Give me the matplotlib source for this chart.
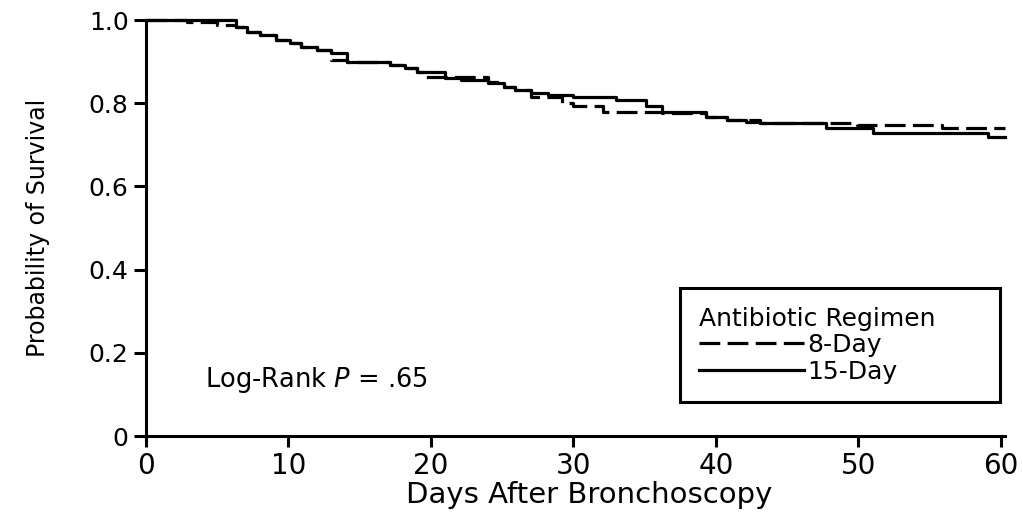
import numpy as np
import matplotlib.pyplot as plt

plt.rcParams['font.family'] = ['DejaVu Sans']

# Kaplan-Meier step points (day of event, survival after event)
days_8 = [0, 2.9, 5.0, 6.3, 7.1, 8.0, 9.1, 10.1, 10.9, 12.0, 13.0, 14.1, 17.1,
          18.2, 19.0, 19.6, 24.0, 25.1, 25.9, 27.0, 29.2, 30.0, 32.1, 36.2,
          39.3, 40.8, 43.1, 49.9, 55.9]
surv_8 = [1.0, 0.995, 0.988, 0.984, 0.970, 0.964, 0.952, 0.944, 0.936, 0.928,
          0.904, 0.898, 0.891, 0.884, 0.876, 0.862, 0.850, 0.839, 0.832, 0.816,
          0.800, 0.793, 0.780, 0.776, 0.768, 0.760, 0.752, 0.747, 0.740]

days_15 = [0, 6.3, 7.1, 8.0, 9.1, 10.1, 10.9, 12.0, 13.0, 14.1, 17.1, 18.2,
           19.0, 21.0, 22.1, 24.0, 25.1, 25.9, 27.0, 28.2, 30.0, 33.0, 35.1,
           36.2, 39.3, 40.8, 42.1, 43.1, 47.7, 51.0, 59.1]
surv_15 = [1.0, 0.984, 0.970, 0.964, 0.952, 0.944, 0.936, 0.928, 0.921, 0.898,
           0.891, 0.884, 0.876, 0.860, 0.855, 0.849, 0.839, 0.832, 0.825, 0.820,
           0.816, 0.808, 0.793, 0.778, 0.768, 0.760, 0.756, 0.752, 0.740, 0.728,
           0.718]

follow_up_end = 60.3
x_ticks = [0, 10, 20, 30, 40, 50, 60]
y_ticks = [0, 0.2, 0.4, 0.6, 0.8, 1.0]
y_ticklabels = ['0', '0.2', '0.4', '0.6', '0.8', '1.0']


def km_steps(days, surv, end):
    return np.append(days, end), np.append(surv, surv[-1])


fig = plt.figure(figsize=(10.23, 5.14), dpi=100)
ax = fig.add_axes([146 / 1023, 1 - 436 / 514, (1005 - 146) / 1023, (436 - 20) / 514])

x8, y8 = km_steps(days_8, surv_8, follow_up_end)
x15, y15 = km_steps(days_15, surv_15, follow_up_end)
line8, = ax.step(x8, y8, where='post', color='black', linewidth=2.3,
                 linestyle=(0, (6.5, 2.3)), clip_on=False, label='8-Day')
line15, = ax.step(x15, y15, where='post', color='black', linewidth=2.3,
                  clip_on=False, label='15-Day')

ax.set_xlim(0, follow_up_end)
ax.set_ylim(0, 1.0)
ax.set_xticks(x_ticks)
ax.set_yticks(y_ticks)
ax.set_yticklabels(y_ticklabels)
ax.tick_params(axis='x', length=8, width=2.2, pad=3.5, labelsize=20)
ax.tick_params(axis='y', length=9, width=2.2, pad=3.5, labelsize=18)
for side in ['top', 'right']:
    ax.spines[side].set_visible(False)
for side in ['left', 'bottom']:
    ax.spines[side].set_linewidth(2.2)

ax.set_xlabel('Days After Bronchoscopy', fontsize=21)
ax.xaxis.set_label_coords(0.516, -0.108)
ax.set_ylabel('Probability of Survival', fontsize=17)
ax.yaxis.set_label_coords(-0.112, 0.5)

ax.text(4.14, 0.135, 'Log-Rank $P$ = .65', fontsize=18.5, ha='left', va='center')

leg = ax.legend(handles=[line8, line15], title='Antibiotic Regimen',
                loc='upper left', bbox_to_anchor=(0.6217, 0.356, 0.372, 0),
                mode='expand', alignment='left', fontsize=18, title_fontsize=18,
                frameon=True, fancybox=False, edgecolor='black', framealpha=1,
                handlelength=4.2, handletextpad=0.15, labelspacing=0.1,
                borderpad=0.75, borderaxespad=0)
leg.get_frame().set_linewidth(2.2)

fig.savefig('out.png', dpi=100)
